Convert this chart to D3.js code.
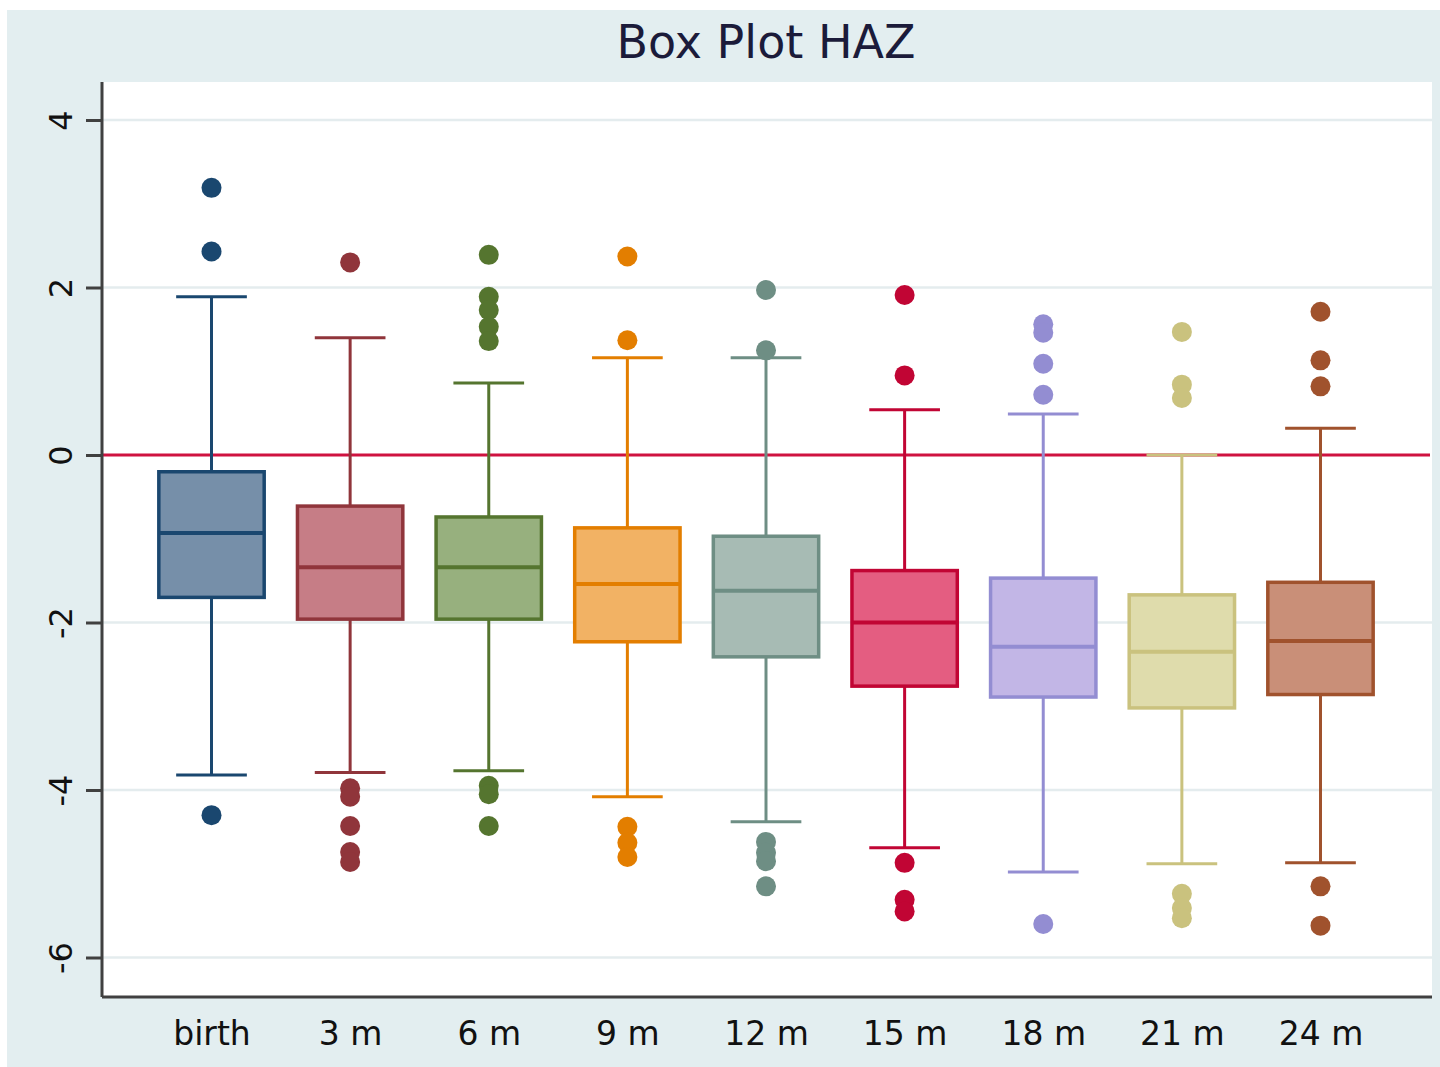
<!DOCTYPE html>
<html>
<head>
<meta charset="utf-8">
<script src="https://cdn.jsdelivr.net/npm/d3@7"></script>
<style>
  html, body { margin: 0; padding: 0; background: #ffffff; }
  svg { display: block; }
</style>
</head>
<body>
<svg id="chart" width="1440" height="1067"></svg>
<script>
// ---------- data ----------
const categories = ["birth", "3 m", "6 m", "9 m", "12 m", "15 m", "18 m", "21 m", "24 m"];
const lowerWhisker = [-3.82, -3.79, -3.77, -4.08, -4.38, -4.69, -4.98, -4.88, -4.87];
const q1            = [-1.70, -1.96, -1.96, -2.23, -2.41, -2.76, -2.89, -3.02, -2.86];
const median        = [-0.93, -1.34, -1.34, -1.54, -1.62, -2.00, -2.29, -2.35, -2.22];
const q3            = [-0.20, -0.61, -0.74, -0.87, -0.97, -1.38, -1.47, -1.67, -1.52];
const upperWhisker  = [ 1.89,  1.40,  0.86,  1.16,  1.16,  0.54,  0.49,  0.00,  0.32];
const outliers = [
  [3.19, 2.43, -4.30],
  [2.30, -3.98, -4.08, -4.43, -4.74, -4.86],
  [2.39, 1.89, 1.73, 1.53, 1.36, -3.95, -4.05, -4.43],
  [2.37, 1.37, -4.44, -4.63, -4.80],
  [1.97, 1.25, -4.62, -4.75, -4.85, -5.15],
  [1.91, 0.95, -4.87, -5.31, -5.45],
  [1.56, 1.46, 1.09, 0.72, -5.60],
  [1.47, 0.84, 0.68, -5.24, -5.41, -5.53],
  [1.71, 1.13, 0.82, -5.15, -5.62]
];
const lineColors = ["#1a476f", "#90353b", "#55752f", "#e37e00", "#6e8e84", "#c10534", "#938dd2", "#cac27e", "#a0522d"];
const fillColors = ["#768fa9", "#c67d86", "#97b07e", "#f2b264", "#a7bbb4", "#e45d81", "#c2b6e6", "#dfdcac", "#c98f78"];
const yTicks = [4, 2, 0, -2, -4, -6];
const yTickLabels = ["4", "2", "0", "-2", "-4", "-6"];
const title = "Box Plot HAZ";

// ---------- layout ----------
const svg = d3.select("#chart");
const W = 1440, H = 1067;
const plot = { left: 102, right: 1432, top: 82, bottom: 997 };

// outer background
svg.append("rect").attr("x", 7).attr("y", 10).attr("width", W - 7).attr("height", H - 10)
  .attr("fill", "#e3eef0");
// plot region
svg.append("rect").attr("x", plot.left).attr("y", plot.top)
  .attr("width", plot.right - plot.left).attr("height", plot.bottom - plot.top)
  .attr("fill", "#ffffff");

const x = d3.scalePoint().domain(categories).range([plot.left, 1430]).padding(0.79);
const y = d3.scaleLinear().domain([0, 4]).range([455, 120]);
const step = x.step();
const boxW = step * 0.76;
const capW = step * 0.51;

// gridlines
svg.append("g").selectAll("line").data(yTicks.filter(t => t !== 0)).join("line")
  .attr("x1", plot.left).attr("x2", plot.right)
  .attr("y1", d => y(d)).attr("y2", d => y(d))
  .attr("stroke", "#e4ecee").attr("stroke-width", 2.5);

// zero reference line
svg.append("line").attr("x1", plot.left).attr("x2", 1430)
  .attr("y1", y(0)).attr("y2", y(0))
  .attr("stroke", "#cf1240").attr("stroke-width", 3);

// boxes
const g = svg.append("g");
categories.forEach((c, i) => {
  const cx = x(c);
  const col = lineColors[i];
  const bg = g.append("g");
  // whiskers
  bg.append("line").attr("x1", cx).attr("x2", cx)
    .attr("y1", y(q3[i])).attr("y2", y(upperWhisker[i]))
    .attr("stroke", col).attr("stroke-width", 3);
  bg.append("line").attr("x1", cx).attr("x2", cx)
    .attr("y1", y(q1[i])).attr("y2", y(lowerWhisker[i]))
    .attr("stroke", col).attr("stroke-width", 3);
  // caps
  [upperWhisker[i], lowerWhisker[i]].forEach(v => {
    bg.append("line").attr("x1", cx - capW / 2).attr("x2", cx + capW / 2)
      .attr("y1", y(v)).attr("y2", y(v))
      .attr("stroke", col).attr("stroke-width", 3);
  });
  // box
  bg.append("rect").attr("x", cx - boxW / 2).attr("width", boxW)
    .attr("y", y(q3[i])).attr("height", y(q1[i]) - y(q3[i]))
    .attr("fill", fillColors[i]).attr("stroke", col).attr("stroke-width", 3.5);
  // median
  bg.append("line").attr("x1", cx - boxW / 2).attr("x2", cx + boxW / 2)
    .attr("y1", y(median[i])).attr("y2", y(median[i]))
    .attr("stroke", col).attr("stroke-width", 4);
  // outliers
  bg.selectAll("circle").data(outliers[i]).join("circle")
    .attr("cx", cx).attr("cy", d => y(d)).attr("r", 10)
    .attr("fill", col);
});

// y axis
const yAxis = d3.axisLeft(y).tickValues(yTicks).tickSize(16).tickPadding(10)
  .tickFormat((d, i) => yTickLabels[i]);
const ya = svg.append("g").attr("transform", `translate(${plot.left},0)`).call(yAxis);
ya.select(".domain").attr("d", `M0,${plot.top}V${plot.bottom}`).attr("stroke", "#404040").attr("stroke-width", 3);
ya.selectAll(".tick line").attr("stroke", "#404040").attr("stroke-width", 3);
ya.selectAll(".tick text")
  .attr("transform", "rotate(-90)")
  .attr("x", 0).attr("y", -41).attr("dy", "0.35em")
  .attr("text-anchor", "middle")
  .attr("font-family", "DejaVu Sans, sans-serif")
  .attr("font-size", 32).attr("fill", "#111");

// x axis
const xAxis = d3.axisBottom(x).tickSize(0).tickPadding(25);
const xa = svg.append("g").attr("transform", `translate(0,${plot.bottom})`).call(xAxis);
xa.select(".domain").attr("d", `M${plot.left},0H${plot.right}`).attr("stroke", "#404040").attr("stroke-width", 3);
xa.selectAll(".tick text")
  .attr("font-family", "DejaVu Sans, sans-serif")
  .attr("font-size", 33).attr("fill", "#111");

// title
svg.append("text").attr("x", 766).attr("y", 58).attr("text-anchor", "middle")
  .attr("font-family", "DejaVu Sans, sans-serif").attr("font-size", 46)
  .attr("fill", "#1b1b3a").text(title);
</script>
</body>
</html>
